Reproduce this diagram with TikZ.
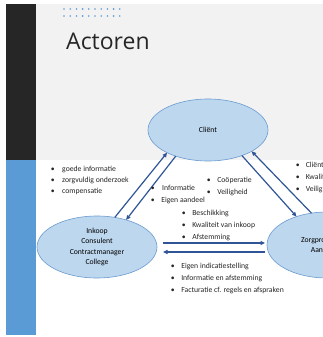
\documentclass[tikz,border=0pt]{standalone}
\usepackage{fontspec}
\setmainfont{Carlito}
\newfontfamily\titlefont{Open Sans}
\usetikzlibrary{arrows.meta,shapes.geometric}
\definecolor{slidegray}{HTML}{F2F2F2}
\definecolor{darkbar}{HTML}{262626}
\definecolor{bluebar}{HTML}{5B9BD5}
\definecolor{ellfill}{HTML}{BDD7EE}
\definecolor{ellline}{HTML}{6A9BD0}
\definecolor{arrowblue}{HTML}{2F5597}
\newcommand\bl[1][10.5pt]{\makebox[#1][l]{\textbullet}}
\begin{document}
\begin{tikzpicture}[x=1pt,y=-1pt,
  actor/.style={ellipse, fill=ellfill, draw=ellline, line width=0.6pt,
    minimum width=120pt, minimum height=62pt, inner sep=0pt, outer sep=0pt,
    align=center, font=\fontsize{7.7}{10.5}\selectfont},
  item/.style={anchor=base west, inner sep=0pt, font=\fontsize{7.7}{9}\selectfont, text=black!85},
  flow/.style={draw=arrowblue, line width=1.2pt, -{Triangle[length=4.5pt,width=4pt]}},
]
\useasboundingbox (0,0) rectangle (323,337);
\clip (0,0) rectangle (323,337);
\fill[white] (0,0) rectangle (323,337);
\fill[slidegray] (36,4) rectangle (323,160);
\fill[darkbar] (6,4) rectangle (36,160);
\fill[bluebar] (6,160) rectangle (36,335);
\foreach \i in {0,...,9} {
  \fill[bluebar] (64+6.2*\i, 9) circle (0.9pt);
  \fill[bluebar] (64+6.2*\i, 16) circle (0.9pt);
}
\node[anchor=base west, inner sep=0pt, text=darkbar,
  font=\titlefont\fontsize{23}{23}\selectfont] (title) at (66,50) {Actoren};

\node[actor] (client) at (208,130) {Cliënt};
\node[actor] (ink) at (97,247) {Inkoop\\Consulent\\Contractmanager\\College};
\node[actor, minimum height=66pt] (zorg) at (327,245) {Zorgprofessional\\Aanbieder};

\draw[flow] (ink.59) -- (client.209);
\draw[flow] (client.219.5) -- (ink.43);
\draw[flow] (client.323) -- (zorg.137);
\draw[flow] (zorg.116.6) -- (client.334.5);
\draw[flow, shorten <=6pt, shorten >=2pt] ([yshift=4pt]ink.east) -- ([yshift=2pt]zorg.west);
\draw[flow, shorten <=2pt, shorten >=6pt] ([yshift=-7pt]zorg.west) -- ([yshift=-5pt]ink.east);

\node[item] (a1) at (50.6,171.5) {\bl[11.4pt]goede informatie};
\node[item] (a2) at (50.6,182.5) {\bl[11.4pt]zorgvuldig onderzoek};
\node[item] (a3) at (50.6,193.5) {\bl[11.4pt]compensatie};

\node[item] (b1) at (150.6,190.5) {\bl[11.4pt]Informatie};
\node[item] (b2) at (150.6,202.5) {\bl Eigen aandeel};

\node[item] (c1) at (206.6,182.5) {\bl Coöperatie};
\node[item] (c2) at (206.6,194.5) {\bl Veiligheid};

\node[item] (d1) at (181.6,215.5) {\bl Beschikking};
\node[item] (d2) at (181.6,227.5) {\bl Kwaliteit van inkoop};
\node[item] (d3) at (181.6,239.5) {\bl Afstemming};

\node[item] (e1) at (295.6,167.5) {\bl[10pt]Cliënt};
\node[item] (e2) at (295.6,179.5) {\bl[10pt]Kwaliteit};
\node[item] (e3) at (295.6,191.5) {\bl[10pt]Veiligheid};

\node[item] (f1) at (170.6,268.5) {\bl Eigen indicatiestelling};
\node[item] (f2) at (170.6,280.5) {\bl Informatie en afstemming};
\node[item] (f3) at (170.6,292.5) {\bl Facturatie cf. regels en afspraken};
\end{tikzpicture}
\end{document}
